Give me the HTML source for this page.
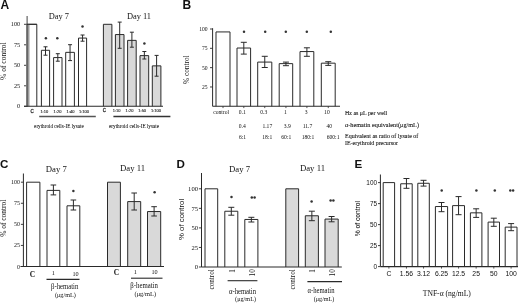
<!DOCTYPE html>
<html><head><meta charset="utf-8"><style>
html,body{margin:0;padding:0;background:#fff;}
body{width:520px;height:303px;overflow:hidden;}
svg{display:block;will-change:transform;}
text{font-family:"Liberation Serif",serif;}
</style></head><body>
<svg width="520" height="303" viewBox="0 0 520 303">
<rect width="520" height="303" fill="#fff"/>
<text x="0.4" y="8.6" font-size="12.0" style="font-family:'Liberation Sans',sans-serif" text-anchor="start" font-weight="bold" fill="#111">A</text>
<line x1="24" y1="24.299999999999997" x2="27.2" y2="24.299999999999997" stroke="#2a2a2a" stroke-width="0.9"/>
<text x="20.2" y="26.4" font-size="6.3" style="font-family:'Liberation Serif',serif" text-anchor="end" font-weight="normal" fill="#111">100</text>
<line x1="24" y1="44.8" x2="27.2" y2="44.8" stroke="#2a2a2a" stroke-width="0.9"/>
<text x="20.2" y="46.9" font-size="6.3" style="font-family:'Liberation Serif',serif" text-anchor="end" font-weight="normal" fill="#111">75</text>
<line x1="24" y1="65.3" x2="27.2" y2="65.3" stroke="#2a2a2a" stroke-width="0.9"/>
<text x="20.2" y="67.39999999999999" font-size="6.3" style="font-family:'Liberation Serif',serif" text-anchor="end" font-weight="normal" fill="#111">50</text>
<line x1="24" y1="85.8" x2="27.2" y2="85.8" stroke="#2a2a2a" stroke-width="0.9"/>
<text x="20.2" y="87.89999999999999" font-size="6.3" style="font-family:'Liberation Serif',serif" text-anchor="end" font-weight="normal" fill="#111">25</text>
<line x1="24" y1="106.3" x2="27.2" y2="106.3" stroke="#2a2a2a" stroke-width="0.9"/>
<text x="20.2" y="108.39999999999999" font-size="6.3" style="font-family:'Liberation Serif',serif" text-anchor="end" font-weight="normal" fill="#111">0</text>
<text x="5.8" y="61.2" font-size="7.5" style="font-family:'Liberation Serif',serif" text-anchor="middle" font-weight="normal" fill="#111" transform="rotate(-90 5.8 61.2)">% of control</text>
<text x="58.8" y="19.0" font-size="8.4" style="font-family:'Liberation Serif',serif" text-anchor="middle" font-weight="normal" fill="#111">Day 7</text>
<text x="139" y="18.9" font-size="8.4" style="font-family:'Liberation Serif',serif" text-anchor="middle" font-weight="normal" fill="#111">Day 11</text>
<rect x="27.5" y="24.299999999999997" width="9.299999999999997" height="82.0" fill="#fff" stroke="none"/>
<polyline points="27.5,106.3 27.5,24.299999999999997 36.8,24.299999999999997 36.8,106.3" fill="none" stroke="#2a2a2a" stroke-width="1.0"/>
<rect x="41.4" y="50.294000000000004" width="8.200000000000003" height="56.00599999999999" fill="#fff" stroke="none"/>
<polyline points="41.4,106.3 41.4,50.294000000000004 49.6,50.294000000000004 49.6,106.3" fill="none" stroke="#2a2a2a" stroke-width="1.0"/>
<line x1="45.5" y1="46.8" x2="45.5" y2="55.2" stroke="#2a2a2a" stroke-width="1.0"/>
<line x1="43.5" y1="46.8" x2="47.5" y2="46.8" stroke="#2a2a2a" stroke-width="1.0"/>
<line x1="43.5" y1="55.2" x2="47.5" y2="55.2" stroke="#2a2a2a" stroke-width="1.0"/>
<rect x="53.6" y="57.592" width="8.399999999999999" height="48.708" fill="#fff" stroke="none"/>
<polyline points="53.6,106.3 53.6,57.592 62.0,57.592 62.0,106.3" fill="none" stroke="#2a2a2a" stroke-width="1.0"/>
<line x1="57.8" y1="53.7" x2="57.8" y2="61.2" stroke="#2a2a2a" stroke-width="1.0"/>
<line x1="55.8" y1="53.7" x2="59.8" y2="53.7" stroke="#2a2a2a" stroke-width="1.0"/>
<line x1="55.8" y1="61.2" x2="59.8" y2="61.2" stroke="#2a2a2a" stroke-width="1.0"/>
<rect x="65.7" y="52.344" width="8.700000000000003" height="53.955999999999996" fill="#fff" stroke="none"/>
<polyline points="65.7,106.3 65.7,52.344 74.4,52.344 74.4,106.3" fill="none" stroke="#2a2a2a" stroke-width="1.0"/>
<line x1="70.05000000000001" y1="44.7" x2="70.05000000000001" y2="60.6" stroke="#2a2a2a" stroke-width="1.0"/>
<line x1="68.05000000000001" y1="44.7" x2="72.05000000000001" y2="44.7" stroke="#2a2a2a" stroke-width="1.0"/>
<line x1="68.05000000000001" y1="60.6" x2="72.05000000000001" y2="60.6" stroke="#2a2a2a" stroke-width="1.0"/>
<rect x="78.5" y="38.07599999999999" width="8.099999999999994" height="68.224" fill="#fff" stroke="none"/>
<polyline points="78.5,106.3 78.5,38.07599999999999 86.6,38.07599999999999 86.6,106.3" fill="none" stroke="#2a2a2a" stroke-width="1.0"/>
<line x1="82.55" y1="35.0" x2="82.55" y2="41.2" stroke="#2a2a2a" stroke-width="1.0"/>
<line x1="80.55" y1="35.0" x2="84.55" y2="35.0" stroke="#2a2a2a" stroke-width="1.0"/>
<line x1="80.55" y1="41.2" x2="84.55" y2="41.2" stroke="#2a2a2a" stroke-width="1.0"/>
<circle cx="45.9" cy="38.3" r="1.25" fill="#333"/>
<circle cx="57.3" cy="38.3" r="1.25" fill="#333"/>
<circle cx="82.5" cy="26.6" r="1.25" fill="#333"/>
<rect x="26.1" y="24.3" width="3.4" height="82.0" fill="#9c9c9c"/>
<line x1="27.1" y1="16.0" x2="27.1" y2="106.3" stroke="#444" stroke-width="1.0"/>
<line x1="26.6" y1="24.3" x2="36.8" y2="24.3" stroke="#2a2a2a" stroke-width="1.0"/>
<rect x="103.4" y="24.299999999999997" width="8.5" height="82.0" fill="#d9d9d9" stroke="none"/>
<polyline points="103.4,106.3 103.4,24.299999999999997 111.9,24.299999999999997 111.9,106.3" fill="none" stroke="#2a2a2a" stroke-width="1.0"/>
<rect x="115.4" y="34.55" width="8.599999999999994" height="71.75" fill="#d9d9d9" stroke="none"/>
<polyline points="115.4,106.3 115.4,34.55 124.0,34.55 124.0,106.3" fill="none" stroke="#2a2a2a" stroke-width="1.0"/>
<line x1="119.7" y1="22.1" x2="119.7" y2="48.3" stroke="#2a2a2a" stroke-width="1.0"/>
<line x1="117.7" y1="22.1" x2="121.7" y2="22.1" stroke="#2a2a2a" stroke-width="1.0"/>
<line x1="117.7" y1="48.3" x2="121.7" y2="48.3" stroke="#2a2a2a" stroke-width="1.0"/>
<rect x="127.6" y="40.372" width="8.599999999999994" height="65.928" fill="#d9d9d9" stroke="none"/>
<polyline points="127.6,106.3 127.6,40.372 136.2,40.372 136.2,106.3" fill="none" stroke="#2a2a2a" stroke-width="1.0"/>
<line x1="131.89999999999998" y1="32.2" x2="131.89999999999998" y2="47.2" stroke="#2a2a2a" stroke-width="1.0"/>
<line x1="129.89999999999998" y1="32.2" x2="133.89999999999998" y2="32.2" stroke="#2a2a2a" stroke-width="1.0"/>
<line x1="129.89999999999998" y1="47.2" x2="133.89999999999998" y2="47.2" stroke="#2a2a2a" stroke-width="1.0"/>
<rect x="140.0" y="55.624" width="8.699999999999989" height="50.675999999999995" fill="#d9d9d9" stroke="none"/>
<polyline points="140.0,106.3 140.0,55.624 148.7,55.624 148.7,106.3" fill="none" stroke="#2a2a2a" stroke-width="1.0"/>
<line x1="144.35" y1="51.5" x2="144.35" y2="59.0" stroke="#2a2a2a" stroke-width="1.0"/>
<line x1="142.35" y1="51.5" x2="146.35" y2="51.5" stroke="#2a2a2a" stroke-width="1.0"/>
<line x1="142.35" y1="59.0" x2="146.35" y2="59.0" stroke="#2a2a2a" stroke-width="1.0"/>
<rect x="152.3" y="65.874" width="8.599999999999994" height="40.426" fill="#d9d9d9" stroke="none"/>
<polyline points="152.3,106.3 152.3,65.874 160.9,65.874 160.9,106.3" fill="none" stroke="#2a2a2a" stroke-width="1.0"/>
<line x1="156.60000000000002" y1="55.4" x2="156.60000000000002" y2="76.2" stroke="#2a2a2a" stroke-width="1.0"/>
<line x1="154.60000000000002" y1="55.4" x2="158.60000000000002" y2="55.4" stroke="#2a2a2a" stroke-width="1.0"/>
<line x1="154.60000000000002" y1="76.2" x2="158.60000000000002" y2="76.2" stroke="#2a2a2a" stroke-width="1.0"/>
<circle cx="144.4" cy="43.6" r="1.25" fill="#333"/>
<text x="32.1" y="112.7" font-size="4.6" style="font-family:'Liberation Sans',sans-serif" text-anchor="middle" font-weight="normal" fill="#333" stroke="#333" stroke-width="0.3">C</text>
<text x="44.3" y="112.7" font-size="4.0" style="font-family:'Liberation Sans',sans-serif" text-anchor="middle" font-weight="normal" fill="#333" stroke="#333" stroke-width="0.15">1:10</text>
<text x="57.5" y="112.7" font-size="4.0" style="font-family:'Liberation Sans',sans-serif" text-anchor="middle" font-weight="normal" fill="#333" stroke="#333" stroke-width="0.15">1:20</text>
<text x="70.5" y="112.7" font-size="4.0" style="font-family:'Liberation Sans',sans-serif" text-anchor="middle" font-weight="normal" fill="#333" stroke="#333" stroke-width="0.15">1:40</text>
<text x="84.0" y="112.7" font-size="4.0" style="font-family:'Liberation Sans',sans-serif" text-anchor="middle" font-weight="normal" fill="#333" stroke="#333" stroke-width="0.15">1:100</text>
<text x="104.3" y="112.2" font-size="4.6" style="font-family:'Liberation Sans',sans-serif" text-anchor="middle" font-weight="normal" fill="#333" stroke="#333" stroke-width="0.3">C</text>
<text x="116.6" y="112.2" font-size="4.0" style="font-family:'Liberation Sans',sans-serif" text-anchor="middle" font-weight="normal" fill="#333" stroke="#333" stroke-width="0.15">1:10</text>
<text x="129.5" y="112.2" font-size="4.0" style="font-family:'Liberation Sans',sans-serif" text-anchor="middle" font-weight="normal" fill="#333" stroke="#333" stroke-width="0.15">1:20</text>
<text x="142.2" y="112.2" font-size="4.0" style="font-family:'Liberation Sans',sans-serif" text-anchor="middle" font-weight="normal" fill="#333" stroke="#333" stroke-width="0.15">1:50</text>
<text x="156.0" y="112.2" font-size="4.0" style="font-family:'Liberation Sans',sans-serif" text-anchor="middle" font-weight="normal" fill="#333" stroke="#333" stroke-width="0.15">1:100</text>
<line x1="39.2" y1="116.5" x2="95.8" y2="116.5" stroke="#555" stroke-width="1.7"/>
<line x1="113.4" y1="116.5" x2="170.4" y2="116.5" stroke="#333" stroke-width="1.5"/>
<text x="58.9" y="128.3" font-size="5.5" style="font-family:'Liberation Serif',serif" text-anchor="middle" font-weight="normal" fill="#111" stroke="#111" stroke-width="0.05" textLength="49.6" lengthAdjust="spacingAndGlyphs">erythroid cells-IE lysate</text>
<text x="134.0" y="128.3" font-size="5.5" style="font-family:'Liberation Serif',serif" text-anchor="middle" font-weight="normal" fill="#111" stroke="#111" stroke-width="0.05" textLength="50.0" lengthAdjust="spacingAndGlyphs">erythroid cells-IE lysate</text>
<text x="182.4" y="8.6" font-size="12.0" style="font-family:'Liberation Sans',sans-serif" text-anchor="start" font-weight="bold" fill="#111">B</text>
<line x1="212.6" y1="28.2" x2="212.6" y2="106.3" stroke="#2a2a2a" stroke-width="1.0"/>
<line x1="210" y1="29.0" x2="212.6" y2="29.0" stroke="#2a2a2a" stroke-width="0.9"/>
<text x="207.6" y="30.9" font-size="5.6" style="font-family:'Liberation Serif',serif" text-anchor="end" font-weight="normal" fill="#111">100</text>
<line x1="210" y1="48.324999999999996" x2="212.6" y2="48.324999999999996" stroke="#2a2a2a" stroke-width="0.9"/>
<text x="207.6" y="50.224999999999994" font-size="5.6" style="font-family:'Liberation Serif',serif" text-anchor="end" font-weight="normal" fill="#111">75</text>
<line x1="210" y1="67.65" x2="212.6" y2="67.65" stroke="#2a2a2a" stroke-width="0.9"/>
<text x="207.6" y="69.55000000000001" font-size="5.6" style="font-family:'Liberation Serif',serif" text-anchor="end" font-weight="normal" fill="#111">50</text>
<line x1="210" y1="86.975" x2="212.6" y2="86.975" stroke="#2a2a2a" stroke-width="0.9"/>
<text x="207.6" y="88.875" font-size="5.6" style="font-family:'Liberation Serif',serif" text-anchor="end" font-weight="normal" fill="#111">25</text>
<text x="189.3" y="69.7" font-size="7.3" style="font-family:'Liberation Serif',serif" text-anchor="middle" font-weight="normal" fill="#111" transform="rotate(-90 189.3 69.7)">% control</text>
<rect x="216.0" y="31.937399999999997" width="14.0" height="74.3626" fill="#fff" stroke="none"/>
<polyline points="216.0,106.3 216.0,31.937399999999997 230.0,31.937399999999997 230.0,106.3" fill="none" stroke="#2a2a2a" stroke-width="1.0"/>
<line x1="223.0" y1="106.3" x2="223.0" y2="108.1" stroke="#2a2a2a" stroke-width="0.8"/>
<rect x="237.0" y="48.0158" width="13.599999999999994" height="58.2842" fill="#fff" stroke="none"/>
<polyline points="237.0,106.3 237.0,48.0158 250.6,48.0158 250.6,106.3" fill="none" stroke="#2a2a2a" stroke-width="1.0"/>
<line x1="243.8" y1="106.3" x2="243.8" y2="108.1" stroke="#2a2a2a" stroke-width="0.8"/>
<line x1="243.8" y1="42.3" x2="243.8" y2="54.1" stroke="#2a2a2a" stroke-width="1.0"/>
<line x1="240.8" y1="42.3" x2="246.8" y2="42.3" stroke="#2a2a2a" stroke-width="1.0"/>
<line x1="240.8" y1="54.1" x2="246.8" y2="54.1" stroke="#2a2a2a" stroke-width="1.0"/>
<rect x="257.7" y="62.084399999999995" width="14.100000000000023" height="44.2156" fill="#fff" stroke="none"/>
<polyline points="257.7,106.3 257.7,62.084399999999995 271.8,62.084399999999995 271.8,106.3" fill="none" stroke="#2a2a2a" stroke-width="1.0"/>
<line x1="264.75" y1="106.3" x2="264.75" y2="108.1" stroke="#2a2a2a" stroke-width="0.8"/>
<line x1="264.75" y1="56.3" x2="264.75" y2="67.5" stroke="#2a2a2a" stroke-width="1.0"/>
<line x1="261.75" y1="56.3" x2="267.75" y2="56.3" stroke="#2a2a2a" stroke-width="1.0"/>
<line x1="261.75" y1="67.5" x2="267.75" y2="67.5" stroke="#2a2a2a" stroke-width="1.0"/>
<rect x="279.2" y="63.630399999999995" width="13.5" height="42.6696" fill="#fff" stroke="none"/>
<polyline points="279.2,106.3 279.2,63.630399999999995 292.7,63.630399999999995 292.7,106.3" fill="none" stroke="#2a2a2a" stroke-width="1.0"/>
<line x1="285.95" y1="106.3" x2="285.95" y2="108.1" stroke="#2a2a2a" stroke-width="0.8"/>
<line x1="285.95" y1="62.1" x2="285.95" y2="65.7" stroke="#2a2a2a" stroke-width="1.0"/>
<line x1="282.95" y1="62.1" x2="288.95" y2="62.1" stroke="#2a2a2a" stroke-width="1.0"/>
<line x1="282.95" y1="65.7" x2="288.95" y2="65.7" stroke="#2a2a2a" stroke-width="1.0"/>
<rect x="300.0" y="51.571600000000004" width="13.800000000000011" height="54.72839999999999" fill="#fff" stroke="none"/>
<polyline points="300.0,106.3 300.0,51.571600000000004 313.8,51.571600000000004 313.8,106.3" fill="none" stroke="#2a2a2a" stroke-width="1.0"/>
<line x1="306.9" y1="106.3" x2="306.9" y2="108.1" stroke="#2a2a2a" stroke-width="0.8"/>
<line x1="306.9" y1="47.8" x2="306.9" y2="56.3" stroke="#2a2a2a" stroke-width="1.0"/>
<line x1="303.9" y1="47.8" x2="309.9" y2="47.8" stroke="#2a2a2a" stroke-width="1.0"/>
<line x1="303.9" y1="56.3" x2="309.9" y2="56.3" stroke="#2a2a2a" stroke-width="1.0"/>
<rect x="321.3" y="63.1666" width="13.899999999999977" height="43.133399999999995" fill="#fff" stroke="none"/>
<polyline points="321.3,106.3 321.3,63.1666 335.2,63.1666 335.2,106.3" fill="none" stroke="#2a2a2a" stroke-width="1.0"/>
<line x1="328.25" y1="106.3" x2="328.25" y2="108.1" stroke="#2a2a2a" stroke-width="0.8"/>
<line x1="328.25" y1="61.7" x2="328.25" y2="65.4" stroke="#2a2a2a" stroke-width="1.0"/>
<line x1="325.25" y1="61.7" x2="331.25" y2="61.7" stroke="#2a2a2a" stroke-width="1.0"/>
<line x1="325.25" y1="65.4" x2="331.25" y2="65.4" stroke="#2a2a2a" stroke-width="1.0"/>
<circle cx="244.0" cy="31.8" r="1.25" fill="#333"/>
<circle cx="265.2" cy="31.8" r="1.25" fill="#333"/>
<circle cx="285.8" cy="31.8" r="1.25" fill="#333"/>
<circle cx="306.8" cy="31.8" r="1.25" fill="#333"/>
<circle cx="330.8" cy="31.8" r="1.25" fill="#333"/>
<text x="221.2" y="114.0" font-size="5.6" style="font-family:'Liberation Serif',serif" text-anchor="middle" font-weight="normal" fill="#111">control</text>
<text x="242.3" y="114.0" font-size="5.6" style="font-family:'Liberation Serif',serif" text-anchor="middle" font-weight="normal" fill="#111">0.1</text>
<text x="263.7" y="114.0" font-size="5.6" style="font-family:'Liberation Serif',serif" text-anchor="middle" font-weight="normal" fill="#111">0.3</text>
<text x="285.5" y="114.0" font-size="5.6" style="font-family:'Liberation Serif',serif" text-anchor="middle" font-weight="normal" fill="#111">1</text>
<text x="306.1" y="114.0" font-size="5.6" style="font-family:'Liberation Serif',serif" text-anchor="middle" font-weight="normal" fill="#111">3</text>
<text x="326.9" y="114.0" font-size="5.6" style="font-family:'Liberation Serif',serif" text-anchor="middle" font-weight="normal" fill="#111">10</text>
<text x="242.3" y="127.7" font-size="5.6" style="font-family:'Liberation Serif',serif" text-anchor="middle" font-weight="normal" fill="#111">0.4</text>
<text x="267.3" y="127.7" font-size="5.6" style="font-family:'Liberation Serif',serif" text-anchor="middle" font-weight="normal" fill="#111">1.17</text>
<text x="287.3" y="127.7" font-size="5.6" style="font-family:'Liberation Serif',serif" text-anchor="middle" font-weight="normal" fill="#111">3.9</text>
<text x="307.5" y="127.7" font-size="5.6" style="font-family:'Liberation Serif',serif" text-anchor="middle" font-weight="normal" fill="#111">11.7</text>
<text x="329.2" y="127.7" font-size="5.6" style="font-family:'Liberation Serif',serif" text-anchor="middle" font-weight="normal" fill="#111">40</text>
<text x="242.5" y="139.1" font-size="5.6" style="font-family:'Liberation Serif',serif" text-anchor="middle" font-weight="normal" fill="#111">6:1</text>
<text x="267.3" y="139.1" font-size="5.6" style="font-family:'Liberation Serif',serif" text-anchor="middle" font-weight="normal" fill="#111">18:1</text>
<text x="286.3" y="139.1" font-size="5.6" style="font-family:'Liberation Serif',serif" text-anchor="middle" font-weight="normal" fill="#111">60:1</text>
<text x="308.0" y="139.1" font-size="5.6" style="font-family:'Liberation Serif',serif" text-anchor="middle" font-weight="normal" fill="#111">180:1</text>
<text x="333.1" y="139.1" font-size="5.6" style="font-family:'Liberation Serif',serif" text-anchor="middle" font-weight="normal" fill="#111">600:1</text>
<text x="345" y="115.4" font-size="6.0" style="font-family:'Liberation Serif',serif" text-anchor="start" font-weight="normal" fill="#111" stroke="#111" stroke-width="0.08" textLength="42.2" lengthAdjust="spacingAndGlyphs">Hz as μL per well</text>
<text x="345" y="126.8" font-size="6.1" style="font-family:'Liberation Serif',serif" text-anchor="start" font-weight="normal" fill="#111" stroke="#111" stroke-width="0.08" textLength="74.0" lengthAdjust="spacingAndGlyphs">α-hematin equivalent(μg/mL)</text>
<text x="345" y="138.4" font-size="6.0" style="font-family:'Liberation Serif',serif" text-anchor="start" font-weight="normal" fill="#111" stroke="#111" stroke-width="0.08" textLength="73.3" lengthAdjust="spacingAndGlyphs">Equivalent as ratio of lysate of</text>
<text x="345" y="145.3" font-size="6.0" style="font-family:'Liberation Serif',serif" text-anchor="start" font-weight="normal" fill="#111" stroke="#111" stroke-width="0.08" textLength="53.0" lengthAdjust="spacingAndGlyphs">IE-erythroid precursor</text>
<text x="0.0" y="167.5" font-size="11.6" style="font-family:'Liberation Sans',sans-serif" text-anchor="start" font-weight="bold" fill="#111">C</text>
<line x1="23.4" y1="173.5" x2="23.4" y2="266.5" stroke="#2a2a2a" stroke-width="1.0"/>
<line x1="20.9" y1="182.2" x2="23.4" y2="182.2" stroke="#2a2a2a" stroke-width="0.9"/>
<text x="20" y="184.2" font-size="6" style="font-family:'Liberation Serif',serif" text-anchor="end" font-weight="normal" fill="#111">100</text>
<line x1="20.9" y1="203.27499999999998" x2="23.4" y2="203.27499999999998" stroke="#2a2a2a" stroke-width="0.9"/>
<text x="20" y="205.27499999999998" font-size="6" style="font-family:'Liberation Serif',serif" text-anchor="end" font-weight="normal" fill="#111">75</text>
<line x1="20.9" y1="224.35" x2="23.4" y2="224.35" stroke="#2a2a2a" stroke-width="0.9"/>
<text x="20" y="226.35" font-size="6" style="font-family:'Liberation Serif',serif" text-anchor="end" font-weight="normal" fill="#111">50</text>
<line x1="20.9" y1="245.425" x2="23.4" y2="245.425" stroke="#2a2a2a" stroke-width="0.9"/>
<text x="20" y="247.425" font-size="6" style="font-family:'Liberation Serif',serif" text-anchor="end" font-weight="normal" fill="#111">25</text>
<line x1="20.9" y1="266.5" x2="23.4" y2="266.5" stroke="#2a2a2a" stroke-width="0.9"/>
<text x="20" y="268.5" font-size="6" style="font-family:'Liberation Serif',serif" text-anchor="end" font-weight="normal" fill="#111">0</text>
<text x="5.8" y="218.2" font-size="7.4" style="font-family:'Liberation Serif',serif" text-anchor="middle" font-weight="normal" fill="#111" transform="rotate(-90 5.8 218.2)">% of control</text>
<text x="56.3" y="171.8" font-size="8.7" style="font-family:'Liberation Serif',serif" text-anchor="middle" font-weight="normal" fill="#111">Day 7</text>
<text x="132.6" y="170.6" font-size="8.7" style="font-family:'Liberation Serif',serif" text-anchor="middle" font-weight="normal" fill="#111">Day 11</text>
<rect x="26.6" y="182.2" width="13.299999999999997" height="84.30000000000001" fill="#fff" stroke="none"/>
<polyline points="26.6,266.5 26.6,182.2 39.9,182.2 39.9,266.5" fill="none" stroke="#2a2a2a" stroke-width="1.0"/>
<rect x="47.0" y="190.37709999999998" width="12.799999999999997" height="76.12290000000002" fill="#fff" stroke="none"/>
<polyline points="47.0,266.5 47.0,190.37709999999998 59.8,190.37709999999998 59.8,266.5" fill="none" stroke="#2a2a2a" stroke-width="1.0"/>
<line x1="53.4" y1="185.0" x2="53.4" y2="194.9" stroke="#2a2a2a" stroke-width="1.0"/>
<line x1="50.6" y1="185.0" x2="56.199999999999996" y2="185.0" stroke="#2a2a2a" stroke-width="1.0"/>
<line x1="50.6" y1="194.9" x2="56.199999999999996" y2="194.9" stroke="#2a2a2a" stroke-width="1.0"/>
<rect x="67.0" y="205.804" width="12.799999999999997" height="60.696" fill="#fff" stroke="none"/>
<polyline points="67.0,266.5 67.0,205.804 79.8,205.804 79.8,266.5" fill="none" stroke="#2a2a2a" stroke-width="1.0"/>
<line x1="73.4" y1="200.0" x2="73.4" y2="210.0" stroke="#2a2a2a" stroke-width="1.0"/>
<line x1="70.60000000000001" y1="200.0" x2="76.2" y2="200.0" stroke="#2a2a2a" stroke-width="1.0"/>
<line x1="70.60000000000001" y1="210.0" x2="76.2" y2="210.0" stroke="#2a2a2a" stroke-width="1.0"/>
<circle cx="73.4" cy="190.9" r="1.25" fill="#333"/>
<rect x="107.5" y="182.2" width="12.900000000000006" height="84.30000000000001" fill="#d9d9d9" stroke="none"/>
<polyline points="107.5,266.5 107.5,182.2 120.4,182.2 120.4,266.5" fill="none" stroke="#2a2a2a" stroke-width="1.0"/>
<rect x="127.7" y="201.589" width="12.999999999999986" height="64.911" fill="#d9d9d9" stroke="none"/>
<polyline points="127.7,266.5 127.7,201.589 140.7,201.589 140.7,266.5" fill="none" stroke="#2a2a2a" stroke-width="1.0"/>
<line x1="134.2" y1="193.0" x2="134.2" y2="210.0" stroke="#2a2a2a" stroke-width="1.0"/>
<line x1="131.39999999999998" y1="193.0" x2="137.0" y2="193.0" stroke="#2a2a2a" stroke-width="1.0"/>
<line x1="131.39999999999998" y1="210.0" x2="137.0" y2="210.0" stroke="#2a2a2a" stroke-width="1.0"/>
<rect x="147.5" y="211.5364" width="13.199999999999989" height="54.963600000000014" fill="#d9d9d9" stroke="none"/>
<polyline points="147.5,266.5 147.5,211.5364 160.7,211.5364 160.7,266.5" fill="none" stroke="#2a2a2a" stroke-width="1.0"/>
<line x1="154.1" y1="206.7" x2="154.1" y2="216.0" stroke="#2a2a2a" stroke-width="1.0"/>
<line x1="151.29999999999998" y1="206.7" x2="156.9" y2="206.7" stroke="#2a2a2a" stroke-width="1.0"/>
<line x1="151.29999999999998" y1="216.0" x2="156.9" y2="216.0" stroke="#2a2a2a" stroke-width="1.0"/>
<circle cx="154.6" cy="192.2" r="1.25" fill="#333"/>
<text x="32.4" y="276.5" font-size="7.4" style="font-family:'Liberation Serif',serif" text-anchor="middle" font-weight="bold" fill="#111">C</text>
<text x="53.2" y="275.0" font-size="6.2" style="font-family:'Liberation Serif',serif" text-anchor="middle" font-weight="normal" fill="#111">1</text>
<text x="75.5" y="276.3" font-size="6.2" style="font-family:'Liberation Serif',serif" text-anchor="middle" font-weight="normal" fill="#111">10</text>
<text x="116.4" y="274.8" font-size="7.4" style="font-family:'Liberation Serif',serif" text-anchor="middle" font-weight="bold" fill="#111">C</text>
<text x="135.2" y="274.2" font-size="6.2" style="font-family:'Liberation Serif',serif" text-anchor="middle" font-weight="normal" fill="#111">1</text>
<text x="154.5" y="274.2" font-size="6.2" style="font-family:'Liberation Serif',serif" text-anchor="middle" font-weight="normal" fill="#111">10</text>
<line x1="46.5" y1="279.4" x2="79.5" y2="279.4" stroke="#2a2a2a" stroke-width="1.1"/>
<line x1="131.0" y1="278.2" x2="162.5" y2="278.2" stroke="#2a2a2a" stroke-width="1.1"/>
<text x="64.7" y="289.1" font-size="7.4" style="font-family:'Liberation Serif',serif" text-anchor="middle" font-weight="normal" fill="#111" textLength="27.2" lengthAdjust="spacingAndGlyphs">β-hematin</text>
<text x="65.4" y="296.5" font-size="7.0" style="font-family:'Liberation Serif',serif" text-anchor="middle" font-weight="normal" fill="#111" textLength="21.0" lengthAdjust="spacingAndGlyphs">(μg/mL)</text>
<text x="144.1" y="288.0" font-size="7.4" style="font-family:'Liberation Serif',serif" text-anchor="middle" font-weight="normal" fill="#111" textLength="27.6" lengthAdjust="spacingAndGlyphs">β-hematin</text>
<text x="145.35" y="295.8" font-size="7.0" style="font-family:'Liberation Serif',serif" text-anchor="middle" font-weight="normal" fill="#111" textLength="21.6" lengthAdjust="spacingAndGlyphs">(μg/mL)</text>
<text x="176.5" y="167.5" font-size="11.6" style="font-family:'Liberation Sans',sans-serif" text-anchor="start" font-weight="bold" fill="#111">D</text>
<line x1="201.5" y1="173.0" x2="201.5" y2="267.0" stroke="#2a2a2a" stroke-width="1.0"/>
<line x1="198.9" y1="188.8" x2="201.5" y2="188.8" stroke="#2a2a2a" stroke-width="0.9"/>
<text x="198.0" y="191.0" font-size="6.6" style="font-family:'Liberation Serif',serif" text-anchor="end" font-weight="normal" fill="#111">100</text>
<line x1="198.9" y1="208.35000000000002" x2="201.5" y2="208.35000000000002" stroke="#2a2a2a" stroke-width="0.9"/>
<text x="198.0" y="210.55" font-size="6.6" style="font-family:'Liberation Serif',serif" text-anchor="end" font-weight="normal" fill="#111">75</text>
<line x1="198.9" y1="227.9" x2="201.5" y2="227.9" stroke="#2a2a2a" stroke-width="0.9"/>
<text x="198.0" y="230.1" font-size="6.6" style="font-family:'Liberation Serif',serif" text-anchor="end" font-weight="normal" fill="#111">50</text>
<line x1="198.9" y1="247.45" x2="201.5" y2="247.45" stroke="#2a2a2a" stroke-width="0.9"/>
<text x="198.0" y="249.64999999999998" font-size="6.6" style="font-family:'Liberation Serif',serif" text-anchor="end" font-weight="normal" fill="#111">25</text>
<line x1="198.9" y1="267.0" x2="201.5" y2="267.0" stroke="#2a2a2a" stroke-width="0.9"/>
<text x="198.0" y="269.2" font-size="6.6" style="font-family:'Liberation Serif',serif" text-anchor="end" font-weight="normal" fill="#111">0</text>
<text x="183.6" y="219.4" font-size="7.8" style="font-family:'Liberation Sans',sans-serif" text-anchor="middle" font-weight="normal" fill="#111" transform="rotate(-90 183.6 219.4)">% of control</text>
<text x="239.6" y="171.8" font-size="8.7" style="font-family:'Liberation Serif',serif" text-anchor="middle" font-weight="normal" fill="#111">Day 7</text>
<text x="312.5" y="170.6" font-size="8.7" style="font-family:'Liberation Serif',serif" text-anchor="middle" font-weight="normal" fill="#111">Day 11</text>
<rect x="205.0" y="188.8" width="12.699999999999989" height="78.19999999999999" fill="#fff" stroke="none"/>
<polyline points="205.0,267.0 205.0,188.8 217.7,188.8 217.7,267.0" fill="none" stroke="#2a2a2a" stroke-width="1.0"/>
<rect x="224.8" y="211.2434" width="13.0" height="55.75659999999999" fill="#fff" stroke="none"/>
<polyline points="224.8,267.0 224.8,211.2434 237.8,211.2434 237.8,267.0" fill="none" stroke="#2a2a2a" stroke-width="1.0"/>
<line x1="231.3" y1="207.3" x2="231.3" y2="215.2" stroke="#2a2a2a" stroke-width="1.0"/>
<line x1="228.3" y1="207.3" x2="234.3" y2="207.3" stroke="#2a2a2a" stroke-width="1.0"/>
<line x1="228.3" y1="215.2" x2="234.3" y2="215.2" stroke="#2a2a2a" stroke-width="1.0"/>
<rect x="244.8" y="219.45440000000002" width="13.099999999999966" height="47.54559999999998" fill="#fff" stroke="none"/>
<polyline points="244.8,267.0 244.8,219.45440000000002 257.9,219.45440000000002 257.9,267.0" fill="none" stroke="#2a2a2a" stroke-width="1.0"/>
<line x1="251.35" y1="217.3" x2="251.35" y2="222.0" stroke="#2a2a2a" stroke-width="1.0"/>
<line x1="248.35" y1="217.3" x2="254.35" y2="217.3" stroke="#2a2a2a" stroke-width="1.0"/>
<line x1="248.35" y1="222.0" x2="254.35" y2="222.0" stroke="#2a2a2a" stroke-width="1.0"/>
<circle cx="231.5" cy="197.0" r="1.25" fill="#333"/>
<circle cx="251.79999999999998" cy="197.5" r="1.25" fill="#333"/>
<circle cx="254.6" cy="197.5" r="1.25" fill="#333"/>
<rect x="285.8" y="188.8" width="12.800000000000011" height="78.19999999999999" fill="#d9d9d9" stroke="none"/>
<polyline points="285.8,267.0 285.8,188.8 298.6,188.8 298.6,267.0" fill="none" stroke="#2a2a2a" stroke-width="1.0"/>
<rect x="305.3" y="215.779" width="13.099999999999966" height="51.221000000000004" fill="#d9d9d9" stroke="none"/>
<polyline points="305.3,267.0 305.3,215.779 318.4,215.779 318.4,267.0" fill="none" stroke="#2a2a2a" stroke-width="1.0"/>
<line x1="311.85" y1="211.2" x2="311.85" y2="220.7" stroke="#2a2a2a" stroke-width="1.0"/>
<line x1="308.85" y1="211.2" x2="314.85" y2="211.2" stroke="#2a2a2a" stroke-width="1.0"/>
<line x1="308.85" y1="220.7" x2="314.85" y2="220.7" stroke="#2a2a2a" stroke-width="1.0"/>
<rect x="325.0" y="219.0634" width="13.199999999999989" height="47.9366" fill="#d9d9d9" stroke="none"/>
<polyline points="325.0,267.0 325.0,219.0634 338.2,219.0634 338.2,267.0" fill="none" stroke="#2a2a2a" stroke-width="1.0"/>
<line x1="331.6" y1="216.5" x2="331.6" y2="221.8" stroke="#2a2a2a" stroke-width="1.0"/>
<line x1="328.6" y1="216.5" x2="334.6" y2="216.5" stroke="#2a2a2a" stroke-width="1.0"/>
<line x1="328.6" y1="221.8" x2="334.6" y2="221.8" stroke="#2a2a2a" stroke-width="1.0"/>
<circle cx="311.6" cy="201.5" r="1.25" fill="#333"/>
<circle cx="330.6" cy="200.6" r="1.25" fill="#333"/>
<circle cx="333.4" cy="200.6" r="1.25" fill="#333"/>
<text x="0" y="0" font-size="7.2" style="font-family:'Liberation Serif',serif" text-anchor="end" fill="#111" stroke="#111" stroke-width="0" transform="translate(214.2 269.2) rotate(-90)">control</text>
<text x="0" y="0" font-size="7.2" style="font-family:'Liberation Serif',serif" text-anchor="end" fill="#111" stroke="#111" stroke-width="0" transform="translate(235.0 269.2) rotate(-90)">1</text>
<text x="0" y="0" font-size="7.2" style="font-family:'Liberation Serif',serif" text-anchor="end" fill="#111" stroke="#111" stroke-width="0" transform="translate(254.5 269.2) rotate(-90)">10</text>
<text x="0" y="0" font-size="7.2" style="font-family:'Liberation Serif',serif" text-anchor="end" fill="#111" stroke="#111" stroke-width="0" transform="translate(294.6 269.2) rotate(-90)">control</text>
<text x="0" y="0" font-size="7.2" style="font-family:'Liberation Serif',serif" text-anchor="end" fill="#111" stroke="#111" stroke-width="0" transform="translate(315.1 269.2) rotate(-90)">1</text>
<text x="0" y="0" font-size="7.2" style="font-family:'Liberation Serif',serif" text-anchor="end" fill="#111" stroke="#111" stroke-width="0" transform="translate(335.2 269.2) rotate(-90)">10</text>
<line x1="227.6" y1="280.7" x2="257.4" y2="280.7" stroke="#2a2a2a" stroke-width="1.1"/>
<line x1="307.4" y1="281.6" x2="342.0" y2="281.6" stroke="#2a2a2a" stroke-width="1.2"/>
<text x="242.5" y="294" font-size="7.2" style="font-family:'Liberation Serif',serif" text-anchor="middle" font-weight="normal" fill="#111" textLength="27.0" lengthAdjust="spacingAndGlyphs">α-hematin</text>
<text x="245.6" y="301.2" font-size="7.0" style="font-family:'Liberation Serif',serif" text-anchor="middle" font-weight="normal" fill="#111" textLength="21.0" lengthAdjust="spacingAndGlyphs">(μg/mL)</text>
<text x="321.0" y="293.4" font-size="7.2" style="font-family:'Liberation Serif',serif" text-anchor="middle" font-weight="normal" fill="#111" textLength="27.0" lengthAdjust="spacingAndGlyphs">α-hematin</text>
<text x="324.1" y="300.6" font-size="7.0" style="font-family:'Liberation Serif',serif" text-anchor="middle" font-weight="normal" fill="#111" textLength="20.6" lengthAdjust="spacingAndGlyphs">(μg/mL)</text>
<text x="354.5" y="167.5" font-size="11.6" style="font-family:'Liberation Sans',sans-serif" text-anchor="start" font-weight="bold" fill="#111">E</text>
<line x1="380.4" y1="174.5" x2="380.4" y2="266.6" stroke="#2a2a2a" stroke-width="1.0"/>
<line x1="378.0" y1="182.59999999999997" x2="380.4" y2="182.59999999999997" stroke="#2a2a2a" stroke-width="0.9"/>
<text x="377.0" y="184.79999999999995" font-size="6.4" style="font-family:'Liberation Sans',sans-serif" text-anchor="end" font-weight="normal" fill="#111">100</text>
<line x1="378.0" y1="203.6" x2="380.4" y2="203.6" stroke="#2a2a2a" stroke-width="0.9"/>
<text x="377.0" y="205.79999999999998" font-size="6.4" style="font-family:'Liberation Sans',sans-serif" text-anchor="end" font-weight="normal" fill="#111">75</text>
<line x1="378.0" y1="224.6" x2="380.4" y2="224.6" stroke="#2a2a2a" stroke-width="0.9"/>
<text x="377.0" y="226.79999999999998" font-size="6.4" style="font-family:'Liberation Sans',sans-serif" text-anchor="end" font-weight="normal" fill="#111">50</text>
<line x1="378.0" y1="245.60000000000002" x2="380.4" y2="245.60000000000002" stroke="#2a2a2a" stroke-width="0.9"/>
<text x="377.0" y="247.8" font-size="6.4" style="font-family:'Liberation Sans',sans-serif" text-anchor="end" font-weight="normal" fill="#111">25</text>
<line x1="378.0" y1="266.6" x2="380.4" y2="266.6" stroke="#2a2a2a" stroke-width="0.9"/>
<text x="377.0" y="268.8" font-size="6.4" style="font-family:'Liberation Sans',sans-serif" text-anchor="end" font-weight="normal" fill="#111">0</text>
<text x="360.5" y="218.6" font-size="6.7" style="font-family:'Liberation Sans',sans-serif" text-anchor="middle" font-weight="normal" fill="#111" stroke="#111" stroke-width="0.06" transform="rotate(-90 360.5 218.6)">% of control</text>
<rect x="383.2" y="182.59999999999997" width="11.400000000000034" height="84.00000000000006" fill="#fff" stroke="none"/>
<polyline points="383.2,266.6 383.2,182.59999999999997 394.6,182.59999999999997 394.6,266.6" fill="none" stroke="#2a2a2a" stroke-width="1.0"/>
<line x1="388.9" y1="266.6" x2="388.9" y2="268.6" stroke="#2a2a2a" stroke-width="0.8"/>
<text x="388.9" y="275.9" font-size="6.8" style="font-family:'Liberation Sans',sans-serif" text-anchor="middle" font-weight="normal" fill="#111">C</text>
<rect x="400.7" y="183.776" width="11.5" height="82.82400000000001" fill="#fff" stroke="none"/>
<polyline points="400.7,266.6 400.7,183.776 412.2,183.776 412.2,266.6" fill="none" stroke="#2a2a2a" stroke-width="1.0"/>
<line x1="406.45" y1="266.6" x2="406.45" y2="268.6" stroke="#2a2a2a" stroke-width="0.8"/>
<line x1="406.45" y1="178.5" x2="406.45" y2="188.3" stroke="#2a2a2a" stroke-width="1.0"/>
<line x1="403.45" y1="178.5" x2="409.45" y2="178.5" stroke="#2a2a2a" stroke-width="1.0"/>
<line x1="403.45" y1="188.3" x2="409.45" y2="188.3" stroke="#2a2a2a" stroke-width="1.0"/>
<text x="406.45" y="275.9" font-size="6.8" style="font-family:'Liberation Sans',sans-serif" text-anchor="middle" font-weight="normal" fill="#111">1.56</text>
<rect x="417.8" y="183.272" width="11.5" height="83.32800000000003" fill="#fff" stroke="none"/>
<polyline points="417.8,266.6 417.8,183.272 429.3,183.272 429.3,266.6" fill="none" stroke="#2a2a2a" stroke-width="1.0"/>
<line x1="423.55" y1="266.6" x2="423.55" y2="268.6" stroke="#2a2a2a" stroke-width="0.8"/>
<line x1="423.55" y1="180.3" x2="423.55" y2="186.1" stroke="#2a2a2a" stroke-width="1.0"/>
<line x1="420.55" y1="180.3" x2="426.55" y2="180.3" stroke="#2a2a2a" stroke-width="1.0"/>
<line x1="420.55" y1="186.1" x2="426.55" y2="186.1" stroke="#2a2a2a" stroke-width="1.0"/>
<text x="423.55" y="275.9" font-size="6.8" style="font-family:'Liberation Sans',sans-serif" text-anchor="middle" font-weight="normal" fill="#111">3.12</text>
<rect x="435.4" y="206.54000000000002" width="12.200000000000045" height="60.06" fill="#fff" stroke="none"/>
<polyline points="435.4,266.6 435.4,206.54000000000002 447.6,206.54000000000002 447.6,266.6" fill="none" stroke="#2a2a2a" stroke-width="1.0"/>
<line x1="441.5" y1="266.6" x2="441.5" y2="268.6" stroke="#2a2a2a" stroke-width="0.8"/>
<line x1="441.5" y1="202.5" x2="441.5" y2="211.7" stroke="#2a2a2a" stroke-width="1.0"/>
<line x1="438.5" y1="202.5" x2="444.5" y2="202.5" stroke="#2a2a2a" stroke-width="1.0"/>
<line x1="438.5" y1="211.7" x2="444.5" y2="211.7" stroke="#2a2a2a" stroke-width="1.0"/>
<text x="441.5" y="275.9" font-size="6.8" style="font-family:'Liberation Sans',sans-serif" text-anchor="middle" font-weight="normal" fill="#111">6.25</text>
<rect x="452.6" y="205.616" width="11.899999999999977" height="60.98400000000001" fill="#fff" stroke="none"/>
<polyline points="452.6,266.6 452.6,205.616 464.5,205.616 464.5,266.6" fill="none" stroke="#2a2a2a" stroke-width="1.0"/>
<line x1="458.55" y1="266.6" x2="458.55" y2="268.6" stroke="#2a2a2a" stroke-width="0.8"/>
<line x1="458.55" y1="196.6" x2="458.55" y2="214.7" stroke="#2a2a2a" stroke-width="1.0"/>
<line x1="455.55" y1="196.6" x2="461.55" y2="196.6" stroke="#2a2a2a" stroke-width="1.0"/>
<line x1="455.55" y1="214.7" x2="461.55" y2="214.7" stroke="#2a2a2a" stroke-width="1.0"/>
<text x="458.55" y="275.9" font-size="6.8" style="font-family:'Liberation Sans',sans-serif" text-anchor="middle" font-weight="normal" fill="#111">12.5</text>
<rect x="470.4" y="212.84" width="11.5" height="53.76000000000002" fill="#fff" stroke="none"/>
<polyline points="470.4,266.6 470.4,212.84 481.9,212.84 481.9,266.6" fill="none" stroke="#2a2a2a" stroke-width="1.0"/>
<line x1="476.15" y1="266.6" x2="476.15" y2="268.6" stroke="#2a2a2a" stroke-width="0.8"/>
<line x1="476.15" y1="208.8" x2="476.15" y2="217.4" stroke="#2a2a2a" stroke-width="1.0"/>
<line x1="473.15" y1="208.8" x2="479.15" y2="208.8" stroke="#2a2a2a" stroke-width="1.0"/>
<line x1="473.15" y1="217.4" x2="479.15" y2="217.4" stroke="#2a2a2a" stroke-width="1.0"/>
<text x="476.15" y="275.9" font-size="6.8" style="font-family:'Liberation Sans',sans-serif" text-anchor="middle" font-weight="normal" fill="#111">25</text>
<rect x="488.1" y="222.08" width="11.399999999999977" height="44.52000000000001" fill="#fff" stroke="none"/>
<polyline points="488.1,266.6 488.1,222.08 499.5,222.08 499.5,266.6" fill="none" stroke="#2a2a2a" stroke-width="1.0"/>
<line x1="493.8" y1="266.6" x2="493.8" y2="268.6" stroke="#2a2a2a" stroke-width="0.8"/>
<line x1="493.8" y1="218.2" x2="493.8" y2="226.3" stroke="#2a2a2a" stroke-width="1.0"/>
<line x1="490.8" y1="218.2" x2="496.8" y2="218.2" stroke="#2a2a2a" stroke-width="1.0"/>
<line x1="490.8" y1="226.3" x2="496.8" y2="226.3" stroke="#2a2a2a" stroke-width="1.0"/>
<text x="493.8" y="275.9" font-size="6.8" style="font-family:'Liberation Sans',sans-serif" text-anchor="middle" font-weight="normal" fill="#111">50</text>
<rect x="505.2" y="227.12" width="11.800000000000011" height="39.48000000000002" fill="#fff" stroke="none"/>
<polyline points="505.2,266.6 505.2,227.12 517.0,227.12 517.0,266.6" fill="none" stroke="#2a2a2a" stroke-width="1.0"/>
<line x1="511.1" y1="266.6" x2="511.1" y2="268.6" stroke="#2a2a2a" stroke-width="0.8"/>
<line x1="511.1" y1="223.6" x2="511.1" y2="230.7" stroke="#2a2a2a" stroke-width="1.0"/>
<line x1="508.1" y1="223.6" x2="514.1" y2="223.6" stroke="#2a2a2a" stroke-width="1.0"/>
<line x1="508.1" y1="230.7" x2="514.1" y2="230.7" stroke="#2a2a2a" stroke-width="1.0"/>
<text x="511.1" y="275.9" font-size="6.8" style="font-family:'Liberation Sans',sans-serif" text-anchor="middle" font-weight="normal" fill="#111">100</text>
<circle cx="441.7" cy="190.4" r="1.25" fill="#333"/>
<circle cx="476.4" cy="190.4" r="1.25" fill="#333"/>
<circle cx="494.8" cy="190.4" r="1.25" fill="#333"/>
<circle cx="510.3" cy="190.4" r="1.25" fill="#333"/>
<circle cx="513.1" cy="190.4" r="1.25" fill="#333"/>
<text x="446.8" y="296.0" font-size="7.6" style="font-family:'Liberation Serif',serif" text-anchor="middle" font-weight="normal" fill="#111">TNF-α (ng/mL)</text>
<line x1="24" y1="106.3" x2="163" y2="106.3" stroke="#2a2a2a" stroke-width="1.1"/>
<line x1="212.6" y1="106.3" x2="340.0" y2="106.3" stroke="#2a2a2a" stroke-width="1.1"/>
<line x1="20.5" y1="266.5" x2="164" y2="266.5" stroke="#2a2a2a" stroke-width="1.1"/>
<line x1="201.5" y1="267.0" x2="341.8" y2="267.0" stroke="#2a2a2a" stroke-width="1.1"/>
<line x1="380.4" y1="266.6" x2="518" y2="266.6" stroke="#2a2a2a" stroke-width="1.1"/>
</svg>
</body></html>
